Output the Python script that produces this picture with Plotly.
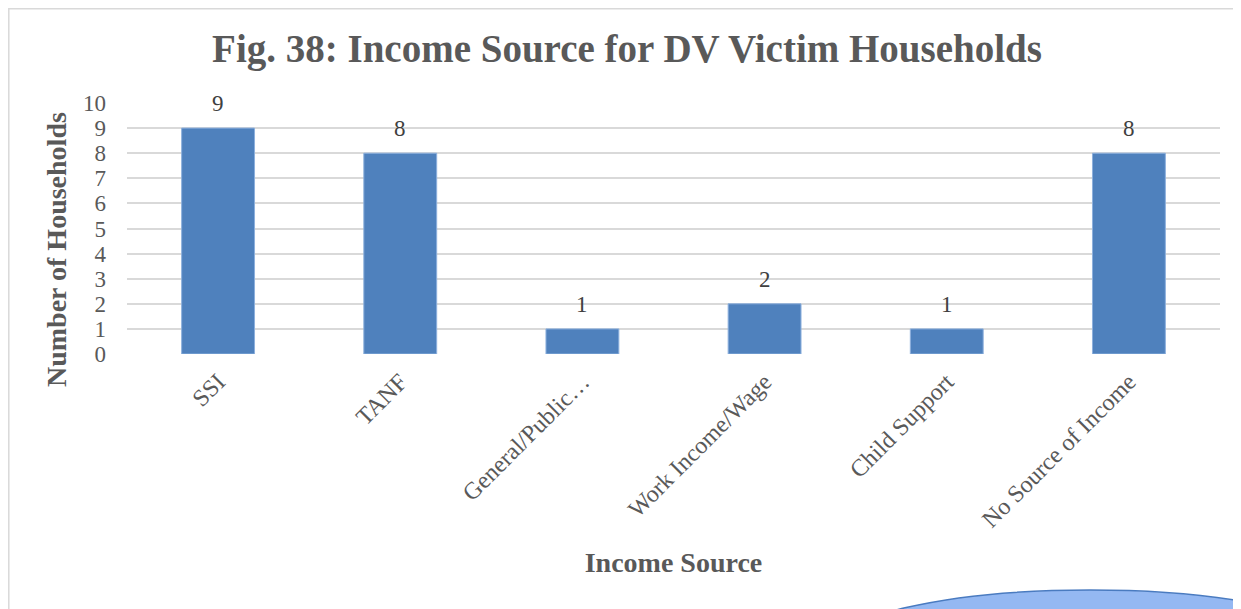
import plotly.graph_objects as go

categories = ["SSI", "TANF", "General/Public…", "Work Income/Wage", "Child Support", "No Source of Income"]
households = [9, 8, 1, 2, 1, 8]
y_ticks = [0, 1, 2, 3, 4, 5, 6, 7, 8, 9, 10]

OFF = 8  # page body margin
W, H = 1241 - OFF, 609 - OFF
# plot area in page pixels: x 127..1220, y 103..354
L = 127 - OFF
R = W - (1220 - OFF)
T = 103 - OFF
B = H - (354 - OFF)
pw = W - L - R
ph = H - T - B

def px(x):
    return (x - OFF - L) / pw

def py(y):
    return (H - B - (y - OFF)) / ph

FONT = "Liberation Serif"
GRAY = "#595959"

fig = go.Figure()
fig.add_trace(go.Bar(
    x=categories, y=households,
    marker=dict(color="#4F81BD", line=dict(color="#8DB0DD", width=1)),
    width=0.4, hoverinfo="x+y",
))

annotations = [
    dict(x=c, y=v, xref="x", yref="y", text=str(v), showarrow=False,
         yanchor="bottom", yshift=10,
         font=dict(family=FONT, size=23, color="#404040"))
    for c, v in zip(categories, households)
]
annotations.append(dict(
    x=px(57), y=py(250), xref="paper", yref="paper", xanchor="center", yanchor="middle",
    text="<b>Number of Households</b>", textangle=-90, showarrow=False,
    font=dict(family=FONT, size=28, color=GRAY)))

fig.update_layout(
    width=W, height=H,
    margin=dict(l=L, r=R, t=T, b=B),
    paper_bgcolor="white", plot_bgcolor="white",
    showlegend=False,
    title=dict(text="<b>Fig. 38: Income Source for DV Victim Households</b>",
               xref="paper", x=px(627), xanchor="center", y=1 - (48 - OFF) / H, yanchor="middle",
               font=dict(family=FONT, size=39, color=GRAY)),
    xaxis=dict(tickangle=-45, tickfont=dict(family=FONT, size=24, color=GRAY),
               showgrid=False, showline=False, ticks="", ticklabelstandoff=8,
               title=dict(text="<b>Income Source</b>", standoff=20,
                          font=dict(family=FONT, size=28, color=GRAY))),
    yaxis=dict(range=[0, 10], tickvals=y_ticks, tickfont=dict(family=FONT, size=23, color=GRAY),
               showgrid=True, gridcolor="#D9D9D9", gridwidth=1.5, zeroline=False,
               showline=False, ticks="", ticklabelstandoff=20),
    annotations=annotations,
    shapes=[
        dict(type="rect", xref="paper", yref="paper",
             x0=px(8.8), x1=px(1300), y0=py(700), y1=py(8.8),
             line=dict(color="#D9D9D9", width=1.5), layer="below"),
        dict(type="circle", xref="paper", yref="paper",
             x0=px(830), x1=px(1350), y0=py(710), y1=py(590),
             fillcolor="#94B8F2", line=dict(color="#4A7BC0", width=1.5)),
    ],
)

fig.write_html("out.html")
